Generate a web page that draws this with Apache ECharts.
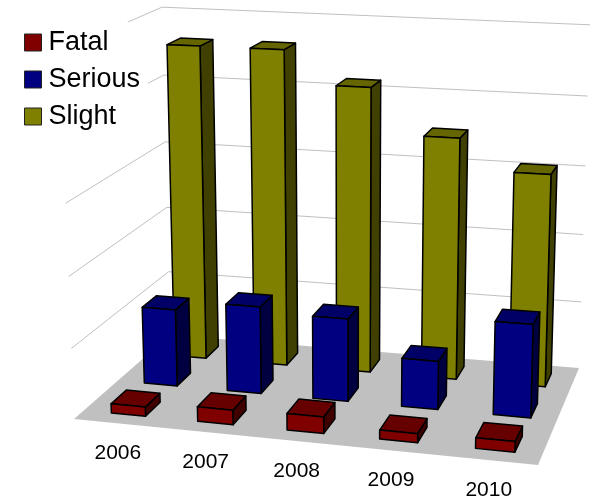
<!DOCTYPE html>
<html>
<head>
<meta charset="utf-8">
<style>
  html, body { margin: 0; padding: 0; background: #fff; }
  #chart { width: 590px; height: 502px; }
</style>
<script src="https://cdn.jsdelivr.net/npm/echarts@6/dist/echarts.min.js"></script>
</head>
<body>
<div id="chart"></div>
<script>
  const years = ['2006', '2007', '2008', '2009', '2010'];
  const fatal = [66, 103, 116, 62, 72];
  const serious = [560, 630, 593, 344, 656];
  const slight = [2310, 2311, 2074, 1750, 1531];
  const yTicks = [0, 500, 1000, 1500, 2000, 2500];

  // 地面四个角 + 竖直方向灭点，拼成透视投影
  const floorQuad = [[74, 419], [538, 465], [579, 368], [170, 335]];
  const vanish = [347.5, 7587];
  const lift = -0.048;
  const unit = 100; // 隐藏 grid 的边长，坐标轴比例尺都走这里

  const [p0, p1, p2, p3] = floorQuad;
  const dx1 = p1[0] - p2[0], dx2 = p3[0] - p2[0], sx = p0[0] - p1[0] + p2[0] - p3[0];
  const dy1 = p1[1] - p2[1], dy2 = p3[1] - p2[1], sy = p0[1] - p1[1] + p2[1] - p3[1];
  const den = dx1 * dy2 - dx2 * dy1;
  const g = (sx * dy2 - dx2 * sy) / den;
  const h = (dx1 * sy - sx * dy1) / den;

  // u: 左右 0~1, y: 高度 0~1, v: 前后 0~1
  function project(u, y, v) {
    const w = g * u + h * v + 1;
    const qx = (p1[0] - p0[0] + g * p1[0]) * u + (p3[0] - p0[0] + h * p3[0]) * v + p0[0];
    const qy = (p1[1] - p0[1] + g * p1[1]) * u + (p3[1] - p0[1] + h * p3[1]) * v + p0[1];
    // 左侧略微拉高，贴合原图左后角
    const t = y * lift * (1 + (1 - u) * (0.015 + 0.015 * v));
    return [(qx + t * vanish[0]) / (w + t), (qy + t * vanish[1]) / (w + t)];
  }

  function barRender(depth, colors) {
    return function (params, api) {
      const pt = api.coord([api.value(0), api.value(1)]);
      const cx = pt[0] / unit + 0.005;
      const top = 1 - pt[1] / unit;
      const hw = 0.04, hd = 0.075;
      const l = cx - hw, r = cx + hw, f = depth - hd, b = depth + hd;
      const face = (pts, fill) => ({
        type: 'polygon',
        shape: { points: pts },
        style: { fill: fill, stroke: '#000', lineWidth: 1.5, lineJoin: 'round' }
      });
      return {
        type: 'group',
        children: [
          face([project(r, 0, f), project(r, 0, b), project(r, top, b), project(r, top, f)], colors[2]),
          face([project(l, top, f), project(r, top, f), project(r, top, b), project(l, top, b)], colors[1]),
          face([project(l, 0, f), project(r, 0, f), project(r, top, f), project(l, top, f)], colors[0])
        ]
      };
    };
  }

  function wallRender(params, api) {
    const pt = api.coord([0, api.value(0)]);
    const y = 1 - pt[1] / unit;
    if (y === 0) {
      return {
        type: 'polygon',
        shape: { points: [project(0, 0, 0), project(1, 0, 0), project(1, 0, 1), project(0, 0, 1)] },
        style: { fill: '#c0c0c0' }
      };
    }
    return {
      type: 'polyline',
      shape: { points: [project(0, y, 0), project(0, y, 1), project(1, y, 1)] },
      style: { fill: 'none', stroke: '#c0c0c0', lineWidth: 1 }
    };
  }

  function labelRender(params, api) {
    const pt = api.coord([api.value(0), 0]);
    const pos = project(pt[0] / unit, 0, 0);
    return {
      type: 'text',
      style: {
        x: pos[0] + 1, y: pos[1] + 30, text: years[api.value(0)],
        font: '21px "Liberation Sans", Arial, sans-serif',
        fill: '#000', align: 'center', verticalAlign: 'middle'
      }
    };
  }

  const toRows = (arr) => arr.map((v, i) => [i, v]);
  const customBase = { type: 'custom', coordinateSystem: 'cartesian2d', clip: false, silent: true, animation: false };

  const chart = echarts.init(document.getElementById('chart'));
  chart.setOption({
    backgroundColor: '#fff',
    animation: false,
    legend: {
      data: ['Fatal', 'Serious', 'Slight'],
      orient: 'vertical',
      left: 14,
      top: 22,
      padding: [7, 8, 8, 10],
      backgroundColor: '#fff',
      icon: 'rect',
      itemWidth: 17,
      itemHeight: 17,
      itemGap: 10,
      selectedMode: false,
      itemStyle: { borderColor: '#222', borderWidth: 1 },
      textStyle: { fontSize: 27, color: '#000', fontFamily: '"Liberation Sans", Arial, sans-serif', padding: [0, 0, 0, 2] }
    },
    grid: { left: 0, top: 0, width: unit, height: unit, show: false },
    xAxis: { type: 'category', data: years, show: false },
    yAxis: { type: 'value', min: 0, max: 2500, interval: 500, show: false },
    series: [
      Object.assign({}, customBase, { name: 'walls', data: yTicks.map((v) => [v]), renderItem: wallRender, encode: { y: 0 } }),
      Object.assign({}, customBase, { name: 'Slight', data: toRows(slight), itemStyle: { color: '#808000' }, renderItem: barRender(5 / 6, ['#808000', '#666600', '#404000']), encode: { x: 0, y: 1 } }),
      Object.assign({}, customBase, { name: 'Serious', data: toRows(serious), itemStyle: { color: '#000080' }, renderItem: barRender(3 / 6, ['#000080', '#000066', '#000040']), encode: { x: 0, y: 1 } }),
      Object.assign({}, customBase, { name: 'Fatal', data: toRows(fatal), itemStyle: { color: '#800000' }, renderItem: barRender(1 / 6, ['#800000', '#660000', '#400000']), encode: { x: 0, y: 1 } }),
      Object.assign({}, customBase, { name: 'labels', data: years.map((y, i) => [i]), renderItem: labelRender, encode: { x: 0 } })
    ]
  });
</script>
</body>
</html>
